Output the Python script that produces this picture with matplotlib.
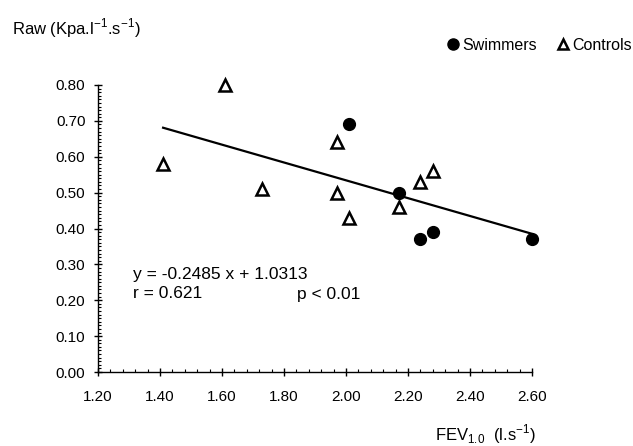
import matplotlib
matplotlib.use("Agg")
import matplotlib.pyplot as plt
from matplotlib.ticker import MultipleLocator, FormatStrFormatter
from matplotlib.lines import Line2D

plt.rcParams['font.family'] = ['Liberation Sans', 'DejaVu Sans']

# FEV1.0 vs Raw
swim_x = [2.01, 2.17, 2.24, 2.28, 2.60]
swim_y = [0.69, 0.50, 0.37, 0.39, 0.37]
ctrl_x = [1.41, 1.61, 1.73, 1.97, 1.97, 2.01, 2.17, 2.24, 2.28]
ctrl_y = [0.58, 0.80, 0.51, 0.64, 0.50, 0.43, 0.46, 0.53, 0.56]

slope = -0.2485
intercept = 1.0313
fit_x = [1.41, 2.60]

W, H = 633, 446
fig = plt.figure(figsize=(W / 100, H / 100), dpi=100)
ax = fig.add_axes([98 / W, 1 - 372 / H, (532 - 98) / W, (372 - 85) / H])

ax.plot(fit_x, [slope * x + intercept for x in fit_x], color='black', lw=1.6,
        zorder=2, clip_on=False)
ax.plot(ctrl_x, ctrl_y, linestyle='none', marker='^', ms=8, mfc='white',
        mec='black', mew=1.8, zorder=3, clip_on=False)
ax.plot(swim_x, swim_y, linestyle='none', marker='o', ms=8.5, mfc='black',
        mec='black', zorder=4, clip_on=False)

ax.set_xlim(1.2, 2.6)
ax.set_ylim(0, 0.8)
ax.xaxis.set_major_locator(MultipleLocator(0.2))
ax.xaxis.set_minor_locator(MultipleLocator(0.04))
ax.yaxis.set_major_locator(MultipleLocator(0.1))
ax.yaxis.set_minor_locator(MultipleLocator(0.01))
ax.xaxis.set_major_formatter(FormatStrFormatter('%.2f'))
ax.yaxis.set_major_formatter(FormatStrFormatter('%.2f'))

for s in ['top', 'right']:
    ax.spines[s].set_visible(False)
for s in ['left', 'bottom']:
    ax.spines[s].set_linewidth(1.0)

ax.tick_params(which='major', direction='inout', length=6, width=1, labelsize=11)
ax.tick_params(which='minor', direction='in', length=2.5, width=0.8)
ax.tick_params(axis='x', which='major', pad=10)
ax.tick_params(axis='y', which='major', pad=6)

fig.text(12 / W, 1 - 28 / H, 'Raw (Kpa.l$^{\\mathregular{-1}}$.s$^{\\mathregular{-1}}$)',
         fontsize=12, ha='left', va='center')
fig.text(536 / W, 1 - 434 / H, 'FEV$_{\\mathregular{1.0}}$  (l.s$^{\\mathregular{-1}}$)',
         fontsize=12, ha='right', va='center')

ax.text(133 / W, 1 - 275 / H, 'y = -0.2485 x + 1.0313', transform=fig.transFigure,
        fontsize=12.5, ha='left', va='center')
ax.text(133 / W, 1 - 294 / H, 'r = 0.621', transform=fig.transFigure,
        fontsize=12.5, ha='left', va='center')
ax.text(297 / W, 1 - 294 / H, 'p < 0.01', transform=fig.transFigure,
        fontsize=12.5, ha='left', va='center')

handles = [
    Line2D([], [], linestyle='none', marker='o', ms=8, mfc='black', mec='black'),
    Line2D([], [], linestyle='none', marker='^', ms=7, mfc='white', mec='black', mew=1.8),
]
fig.legend(handles, ['Swimmers', 'Controls'], loc='center right',
           bbox_to_anchor=(632 / W, 1 - 45 / H), ncol=2, frameon=False,
           fontsize=11.5, handlelength=0.8, handletextpad=0.2,
           columnspacing=1.2, borderpad=0, borderaxespad=0)

fig.savefig('out.png', dpi=100)
